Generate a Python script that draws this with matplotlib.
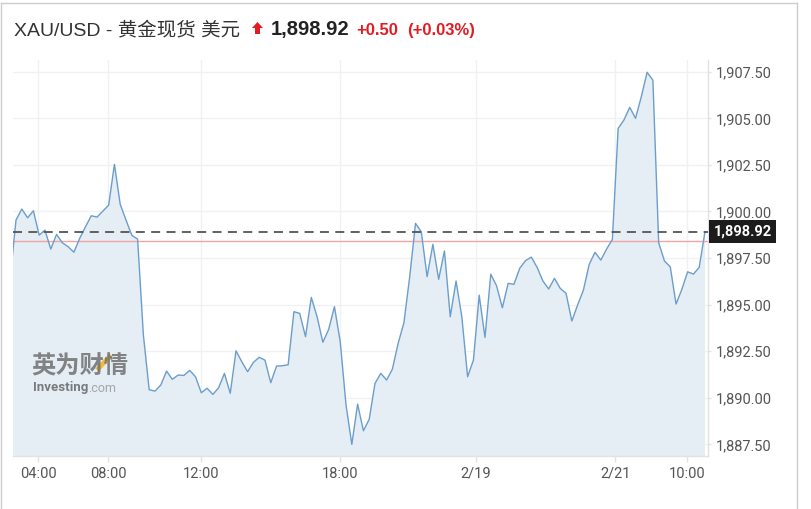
import numpy as np
import matplotlib
matplotlib.use("Agg")
import matplotlib.pyplot as plt
from matplotlib.lines import Line2D
from matplotlib.patches import Polygon

# XAU/USD price points (equal spacing, first point is clipped by the left edge)
prices = [1896.48,
          1899.54, 1900.13, 1899.66, 1900.04, 1898.73, 1899.00, 1897.98, 1898.77, 1898.32, 1898.11,
          1897.81, 1898.56, 1899.18, 1899.77, 1899.70, 1900.02, 1900.34, 1902.53, 1900.38, 1899.54,
          1898.72, 1898.52, 1893.37, 1890.43, 1890.36, 1890.68, 1891.43, 1890.99, 1891.22, 1891.20,
          1891.47, 1891.13, 1890.27, 1890.51, 1890.18, 1890.54, 1891.31, 1890.24, 1892.52, 1891.93,
          1891.40, 1891.90, 1892.17, 1892.02, 1890.81, 1891.70, 1891.72, 1891.77, 1894.62, 1894.53,
          1893.28, 1895.39, 1894.35, 1892.98, 1893.67, 1894.89, 1893.01, 1889.61, 1887.50, 1889.66,
          1888.23, 1888.84, 1890.77, 1891.31, 1890.95, 1891.53, 1892.92, 1894.03, 1896.50, 1899.36,
          1898.91, 1896.50, 1898.24, 1896.36, 1897.88, 1894.35, 1896.27, 1894.35, 1891.13, 1892.02,
          1895.51, 1893.24, 1896.63, 1896.01, 1894.83, 1896.14, 1896.09, 1896.95, 1897.36, 1897.55,
          1897.00, 1896.27, 1895.84, 1896.41, 1895.87, 1895.61, 1894.12, 1894.98, 1895.78, 1897.16,
          1897.81, 1897.39, 1897.98, 1898.50, 1904.46, 1904.91, 1905.59, 1905.00, 1906.16, 1907.47,
          1907.05, 1898.32, 1897.34, 1897.03, 1895.03, 1895.82, 1896.76, 1896.64, 1897.00, 1898.92]

tick_pos = [3.8, 15.9, 32.0, 56.0, 79.4, 103.5, 115.9]
tick_labels = ["04:00", "08:00", "12:00", "18:00", "2/19", "2/21", "10:00"]
y_ticks = [1887.5, 1890.0, 1892.5, 1895.0, 1897.5, 1900.0, 1902.5, 1905.0, 1907.5]

last_price = 1898.92
prev_close = 1898.42

W, H = 812, 509
fig = plt.figure(figsize=(W / 100, H / 100), dpi=100)

# plot area in pixels: x 13..708, y 60..456
ax = fig.add_axes([13 / W, 1 - 455.7 / H, (708.3 - 13) / W, (455.7 - 60) / H])

x = np.arange(-1, len(prices) - 1)
ax.fill_between(x, prices, 1880, color="#e5edf5", lw=0, zorder=1)
ax.plot(x, prices, color="#6c9ecb", lw=1.0, zorder=3)

ax.axhline(prev_close, color="#f2a5a5", lw=1.0, zorder=2)
ax.axhline(last_price, color="#555555", lw=1.3, dashes=(5, 3.5), zorder=4)

ax.set_xlim(-0.52, 119.57)
ax.set_ylim(1886.89, 1908.13)

ax.set_xticks(tick_pos)
ax.set_xticklabels(tick_labels)
ax.yaxis.tick_right()
ax.set_yticks(y_ticks)
ax.set_yticklabels([f"{v:,.2f}" for v in y_ticks])

ax.grid(True, color="#f1f1f1", lw=1.0, zorder=0)
ax.set_axisbelow(True)
for s in ["top", "left"]:
    ax.spines[s].set_visible(False)
for s in ["bottom", "right"]:
    ax.spines[s].set_color("#e2e2e2")
    ax.spines[s].set_linewidth(1.0)

ax.tick_params(axis="x", length=4.5, width=1, color="#e2e2e2", pad=3.5,
               labelsize=10.5, labelcolor="#555555")
ax.tick_params(axis="y", length=2.5, width=1, color="#e2e2e2", pad=3,
               labelsize=10.5, labelcolor="#555555")
for lab in ax.get_xticklabels() + ax.get_yticklabels():
    lab.set_family("Roboto")

# current price tag on the right axis
ax.annotate(f"{last_price:,.2f}", xy=(1.0, last_price), xycoords=("axes fraction", "data"),
            xytext=(4, 0), textcoords="offset points", ha="left", va="center",
            fontsize=10.5, fontweight="bold", color="white", family="Roboto",
            bbox=dict(boxstyle="square,pad=0.3", fc="#1c1c1c", ec="none"),
            annotation_clip=False, zorder=6)

# watermark (positions in pixels)
fig.text(31 / W, 1 - 374 / H, "英为财情", fontsize=17.5, fontweight="heavy",
         color="#707070", alpha=0.85, family=["Noto Sans CJK SC"], va="baseline")
fig.text(33 / W, 1 - 391.5 / H, "Investing", fontsize=9.5, fontweight="bold",
         color="#666666", alpha=0.85, family="Roboto", va="baseline")
fig.text(88.5 / W, 1 - 391.5 / H, ".com", fontsize=9, color="#9a9a9a",
         alpha=0.85, family="Roboto", va="baseline")
fig.add_artist(Line2D([97 / W, 111 / W], [1 - 370 / H, 1 - 355 / H], color="#f3b724",
                      lw=3.4, alpha=0.9, solid_capstyle="butt"))

# header
hfam = ["Liberation Sans", "Noto Sans CJK SC"]
base = 1 - 35 / H
fig.text(14 / W, base, "XAU/USD - 黄金现货 美元", fontsize=14, color="#333333",
         family=hfam, va="baseline")
arrow = [(252, 28), (257.5, 22), (263, 28), (260, 28), (260, 34), (255, 34), (255, 28)]
fig.add_artist(Polygon([(px / W, 1 - py / H) for px, py in arrow], closed=True,
                       transform=fig.transFigure, fc="#e31b23", ec="none"))
fig.text(271 / W, base, f"{last_price:,.2f}", fontsize=14.5, fontweight="bold",
         color="#222222", family="Liberation Sans", va="baseline")
fig.text(356 / W, base, "+0.50", fontsize=12, fontweight="bold", color="#e31b23",
         family="Liberation Sans", va="baseline")
fig.text(407 / W, base, "(+0.03%)", fontsize=12, fontweight="bold", color="#e31b23",
         family="Liberation Sans", va="baseline")

# outer frame
fc = "#cccccc"
fig.add_artist(Line2D([1 / W, 1 / W], [0, 1 - 2.5 / H], color=fc, lw=1))
fig.add_artist(Line2D([1 / W, 797 / W], [1 - 2.5 / H, 1 - 2.5 / H], color=fc, lw=1))
fig.add_artist(Line2D([797 / W, 797 / W], [0, 1 - 2.5 / H], color=fc, lw=1))

fig.savefig("out.png", dpi=100)
